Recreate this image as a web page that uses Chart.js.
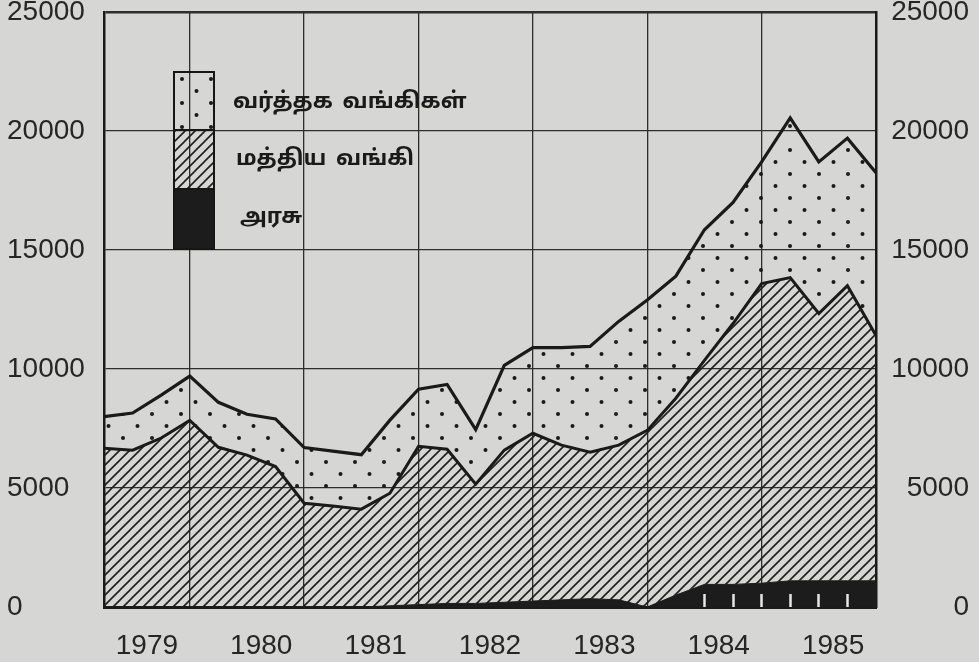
<!DOCTYPE html>
<html>
<head>
<meta charset="utf-8">
<script src="https://cdn.jsdelivr.net/npm/chart.js@4"></script>
<style>
  html, body { margin: 0; padding: 0; background: #d6d6d4; }
  #wrap { position: relative; width: 979px; height: 662px; }
  #legend { position: absolute; left: 173px; top: 71px; width: 42px; height: 179px;
            border: 2px solid #161616; box-sizing: border-box; }
  #legend .sw { width: 100%; box-sizing: border-box; }
  .lbl { position: absolute; font: bold 22px 'Noto Sans Tamil', 'Lohit Tamil', 'Noto Sans', sans-serif;
         line-height: 26px; color: #1a1a1a; white-space: nowrap; word-spacing: 4px; }
</style>
</head>
<body>
<div id="wrap">
  <canvas id="myChart" width="979" height="662"></canvas>
  <div id="legend">
    <div class="sw" id="sw-comm" style="height:56px"></div>
    <div class="sw" id="sw-central" style="height:59px;border-top:2px solid #161616"></div>
    <div class="sw" id="sw-govt" style="height:60px;border-top:2px solid #161616;background:#1c1c1c"></div>
  </div>
  <span class="lbl" style="left:233px;top:90px">வர்த்தக வங்கிகள்</span>
  <span class="lbl" style="left:236px;top:147px">மத்திய வங்கி</span>
  <span class="lbl" style="left:240px;top:205px">அரசு</span>
</div>
<script>
// quarterly figures, 1979 Q1 .. 1985 Q4
const yearLabels = ['1979', '1980', '1981', '1982', '1983', '1984', '1985'];
const seriesNames = ['அரசு', 'மத்திய வங்கி', 'வர்த்தக வங்கிகள்'];
const govt = [0, 0, 0, 0, 0, 0, 0, 0, 0, 0, 50, 100, 150, 150,
              200, 250, 300, 350, 300, 0, 500, 950, 950, 1000, 1100, 1100, 1100, 1100];
const centralBank = [6670, 6590, 7100, 7840, 6710, 6380, 5900, 4360, 4240, 4110, 4730, 6650, 6480, 5010,
                     6390, 7050, 6500, 6150, 6500, 7420, 8270, 9410, 10960, 12590, 12740, 11230, 12400, 10310];
const commercial = [1330, 1560, 1800, 1860, 1890, 1720, 2000, 2340, 2310, 2290, 3070, 2400, 2720, 2290,
                    3560, 3600, 4100, 4450, 5200, 5480, 5130, 5490, 5090, 5110, 6710, 6370, 6200, 6840];
const yTicks = [0, 5000, 10000, 15000, 20000, 25000];
// quarters where the printed chart shows small white tick marks inside the black band
const markQuarters = [21, 22, 23, 24, 25, 26];

const quarterIdx = govt.map((_, i) => i);
const yearEnds = yearLabels.slice(0, -1).map((_, i) => 4 * i + 3);
const yearMids = yearLabels.map((_, i) => 4 * i + 1.5);

function makeTile(w, h, draw) {
    const c = document.createElement('canvas');
    c.width = w;
    c.height = h;
    draw(c.getContext('2d'));
    return c;
}

const hatchTile = makeTile(10, 10, g => {
    g.strokeStyle = '#1e1e1e';
    g.lineWidth = 1.6;
    g.beginPath();
    g.moveTo(-2, 12); g.lineTo(12, -2);
    g.moveTo(-2, 2); g.lineTo(2, -2);
    g.moveTo(8, 12); g.lineTo(12, 8);
    g.stroke();
});

const dotTile = makeTile(29, 24, g => {
    g.fillStyle = '#1a1a1a';
    [[7, 6], [21.5, 18]].forEach(([x, y]) => {
        g.beginPath();
        g.arc(x, y, 2, 0, Math.PI * 2);
        g.fill();
    });
});

document.getElementById('sw-comm').style.backgroundImage = 'url(' + dotTile.toDataURL() + ')';
document.getElementById('sw-central').style.backgroundImage = 'url(' + hatchTile.toDataURL() + ')';

const canvas = document.getElementById('myChart');
const ctx = canvas.getContext('2d');
const hatch = ctx.createPattern(hatchTile, 'repeat');
const dots = ctx.createPattern(dotTile, 'repeat');

const tickFont = { family: "'Liberation Sans', sans-serif", size: 28 };
const ink = '#262626';
const plain = v => String(v);

new Chart(ctx, {
    type: 'line',
    data: {
        labels: quarterIdx,
        datasets: [
            { label: seriesNames[0], data: govt, fill: 'origin', backgroundColor: '#1c1c1c',
              borderColor: '#1c1c1c', borderWidth: 1 },
            { label: seriesNames[1], data: centralBank, fill: '-1', backgroundColor: hatch,
              borderColor: '#1a1a1a', borderWidth: 3 },
            { label: seriesNames[2], data: commercial, fill: '-1', backgroundColor: dots,
              borderColor: '#1a1a1a', borderWidth: 3.2 }
        ]
    },
    options: {
        responsive: false,
        animation: false,
        devicePixelRatio: 1,
        layout: { padding: { left: 7, right: 10, top: 12, bottom: 0 } },
        elements: { line: { tension: 0, borderJoinStyle: 'miter' }, point: { radius: 0 } },
        plugins: { legend: { display: false }, tooltip: { enabled: false } },
        scales: {
            x: {
                type: 'linear', min: 0, max: quarterIdx.length - 1,
                afterBuildTicks: s => { s.ticks = yearMids.map(v => ({ value: v })); },
                ticks: { callback: (v, i) => yearLabels[i], font: tickFont, color: ink,
                         padding: 14, maxRotation: 0, autoSkip: false },
                grid: { display: false },
                border: { color: '#1a1a1a', width: 3 },
                afterFit: s => { s.height = 55; s.paddingLeft = 0; s.paddingRight = 0; }
            },
            xq: {
                type: 'linear', position: 'bottom', weight: -1, min: 0, max: quarterIdx.length - 1,
                afterBuildTicks: s => { s.ticks = markQuarters.map(v => ({ value: v })); },
                ticks: { display: false },
                grid: { z: 1, drawOnChartArea: false, drawTicks: true, tickLength: -13,
                        tickColor: '#e6e6e6', tickWidth: 2.5 },
                border: { display: false },
                afterFit: s => { s.height = 0; s.paddingLeft = 0; s.paddingRight = 0; }
            },
            xg: {
                type: 'linear', position: 'top', min: 0, max: quarterIdx.length - 1,
                afterBuildTicks: s => { s.ticks = yearEnds.map(v => ({ value: v })); },
                ticks: { display: false },
                grid: { color: '#2e2e2e', lineWidth: 1.3, drawTicks: false },
                border: { display: false },
                afterFit: s => { s.height = 0; s.paddingLeft = 0; s.paddingRight = 0; }
            },
            y: {
                stacked: true, min: 0, max: 25000,
                afterBuildTicks: s => { s.ticks = yTicks.map(v => ({ value: v })); },
                ticks: { callback: plain, crossAlign: 'far', font: tickFont, color: ink, padding: 0 },
                grid: { color: '#2e2e2e', drawTicks: false,
                        lineWidth: c => (c.tick && c.tick.value === 25000 ? 2.5 : 1.3) },
                border: { color: '#1a1a1a', width: 2.5 },
                afterFit: s => { s.width = 97; s.paddingTop = 0; s.paddingBottom = 0; }
            },
            y2: {
                position: 'right', min: 0, max: 25000,
                afterBuildTicks: s => { s.ticks = yTicks.map(v => ({ value: v })); },
                ticks: { callback: plain, crossAlign: 'far', font: tickFont, color: ink, padding: 0 },
                grid: { display: false, drawTicks: false },
                border: { color: '#1a1a1a', width: 2.5 },
                afterFit: s => { s.width = 93; s.paddingTop = 0; s.paddingBottom = 0; }
            }
        }
    }
});
</script>
</body>
</html>
